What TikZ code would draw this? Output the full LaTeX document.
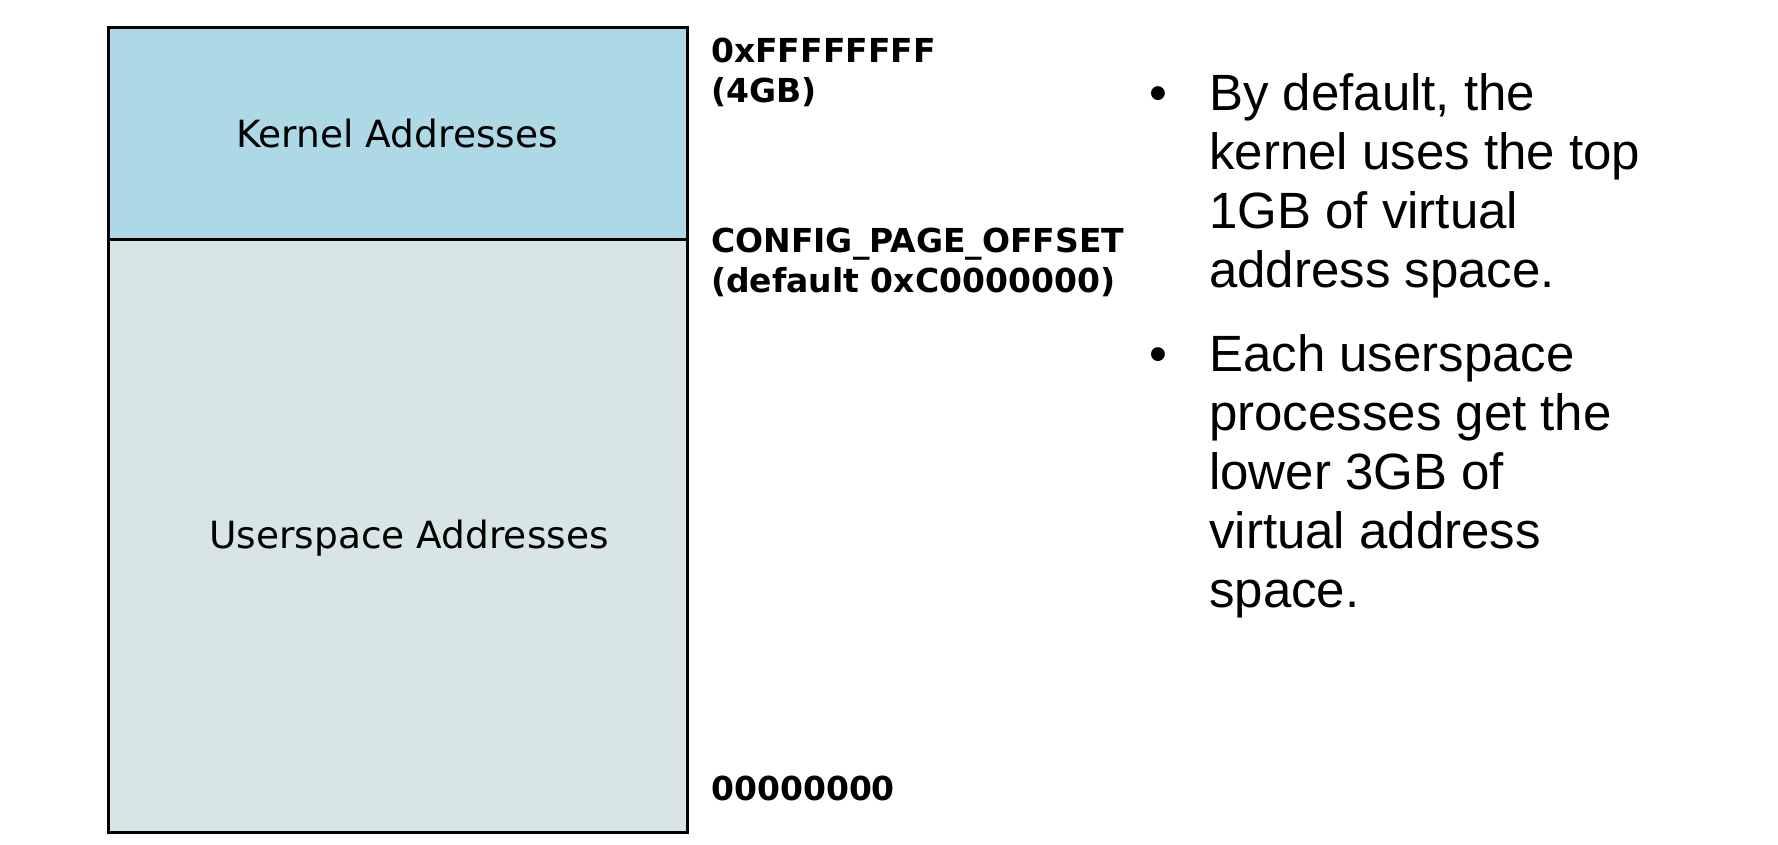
\documentclass[tikz,border=0pt]{standalone}
\usepackage{fontspec}
\setmainfont{Liberation Sans}
\newfontfamily\boxfont{DejaVu Sans}
\usepackage{tikz}
\usetikzlibrary{positioning}
\definecolor{KernelBlue}{RGB}{173, 216, 230}
\definecolor{UserGray}{RGB}{215, 229, 229}

\tikzset{
  region/.style={draw=black, line width=3pt},
  regionlabel/.style={font=\boxfont\fontsize{37.5}{42}\selectfont, inner sep=0pt, anchor=base},
  addrlabel/.style={font=\boxfont\bfseries\fontsize{33}{40}\selectfont, inner sep=0pt, align=left},
  bulletmark/.style={font=\fontsize{51}{59}\selectfont, inner sep=0pt, anchor=base},
  bullettext/.style={font=\fontsize{51}{59}\selectfont, inner sep=0pt, align=left, anchor=north west}
}

\begin{document}
\begin{tikzpicture}[x=1pt, y=-1pt]
      \useasboundingbox (0,0) rectangle (1778,844);

      % Address space
      \draw[region, fill=UserGray] (108,239) rectangle (687,832);
      \draw[region, fill=KernelBlue] (108,27) rectangle (687,239);
      \node[regionlabel] (kernel) at (397,147) {Kernel Addresses};
      \node[regionlabel] (user) at (409,548) {Userspace Addresses};

      % Addresses
      \node[addrlabel, anchor=north west] (top) at (711,37.5) {0xFFFFFFFF\\(4GB)};
      \node[addrlabel, anchor=north west] (offset) at (711,228) {CONFIG\_PAGE\_OFFSET\\(default 0xC0000000)};
      \node[addrlabel, anchor=base west] (zero) at (711,800.5) {00000000};

      % Notes
      \node[bulletmark] (dotA) at (1158,110) {\textbullet};
      \node[bullettext] (noteA) at (1209,73.5) {By default, the\\kernel uses the top\\1GB of virtual\\address space.};
      \node[bulletmark] (dotB) at (1158,371) {\textbullet};
      \node[bullettext] (noteB) at (1209,334.5) {Each userspace\\processes get the\\lower 3GB of\\virtual address\\space.};
    \end{tikzpicture}
\end{document}
